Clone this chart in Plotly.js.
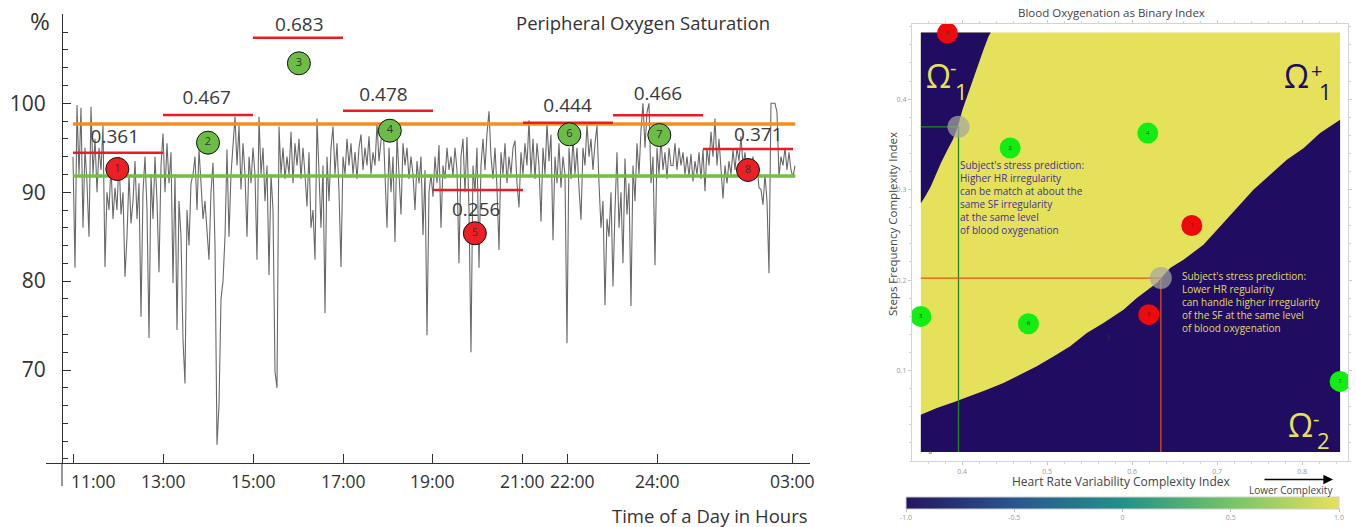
<!DOCTYPE html>
<html><head><meta charset="utf-8">
<script src="https://cdn.plot.ly/plotly-3.0.1.min.js"></script>
<style>html,body{margin:0;padding:0;background:#fff;}#chart{width:1356px;height:527px;}</style>
</head><body><div id="chart"></div>
<script>
const W = 1356, H = 527;
const FONT = 'Open Sans, Noto Sans, sans-serif';

// ---------- Left panel: Peripheral Oxygen Saturation ----------
const sampleStartHour = 11;
const sampleStepHours = 2 / 45;
const spo2 = [
 94,81.5,99.8,92,99.5,86,95,91,85,99.6,92,96,90,95,92.5,97.5,81.6,90,88,93,87,90.5,88,94,87.5,90,80.5,85,92,86.5,89,93.5,87,91,76,90,94,88,73.6,92,87,94,89,81,93,96.6,90,95.5,91,94.5,79.8,92,74.5,89,85,73.4,68.5,88,84,91,
 92,94,88,94.8,91,87,89,85,82.4,90,93.3,84,61.6,66,78,80,85,94.8,85,92,95,98.5,93,97.5,90.3,95.5,92,85,94,91,95,92,82.4,98.5,92,95,89,93,80.7,92,88,69.8,68,97.4,92,95,91.5,94,92,96.8,91,95.5,93,96,91.5,95,92,88.4,94.5,86,
 88,82.4,98.3,91,86,93,76.4,94,89,95,97.4,92,95.5,90,81.6,94,92,96,93,95.5,92,94.5,91.5,95,96.5,92.5,95,93,96.3,92,94.5,93,97.7,93.5,96,98,92,86,95,90,94,84.4,96.5,92,87.5,95.5,93,95,91.5,94,92,88,93.5,91,94,85.2,92.5,73.9,90,92,
 89.5,94,91,95.3,86,93,91.5,95,92.5,94,91.8,95,92.5,82,94,96,90,96.2,88,72,93,90,95,81.5,93,96,92.5,96.6,99.1,94,91.5,95,90.5,83.5,94.5,92,95.5,91,94,92,95,95.8,91,88.3,94.5,92,95.5,93,98.1,92,96,91.5,95.5,93,86.7,95,92,97.8,93.5,96.5,
 84.6,94,91,95.5,90.5,94,92,73,95,91.5,96,92,95,90.5,86.9,95,93,97.7,94,96,92.5,95.5,97.5,91,86,89,77.3,87,85,90,79.4,88,94.5,86,90,82,93.8,87.5,91,77.2,93,89,95.5,92,97,100,95,99,100,91,94,81.8,95,92,96,92.5,94.5,91.5,95,93,
 93,95.5,92.5,95,93,94.5,92,94,91.8,94.3,91.2,93.5,92,94.5,91.5,94.8,90.1,95,93,96.8,94,98.3,93,96,92,89.3,93,91,93.5,92,94.8,92.5,95,93.5,96.3,93,94.5,92,93.5,92.5,94,91.5,93,90.5,90.3,88.6,92,89,80.9,100,100,100,99,91.7,94,93,95,92.5,94.5,92.5,91.7,93
];
const hourTicks = [11, 13, 15, 17, 19, 21, 22, 24, 27];
const hourTickLabels = ['11:00', '13:00', '15:00', '17:00', '19:00', '21:00', '22:00', '24:00', '03:00'];
const spo2Ticks = [70, 80, 90, 100];
const refLineHours = [11, 27.05];
const upperRefLevel = 97.67;
const lowerRefLevel = 91.82;
const windowStart = [11, 13, 15, 17, 19, 21, 23, 25];
const windowEnd = [13, 15, 17, 19, 21, 23, 25, 27];
const windowLevel = [94.44, 98.68, 107.38, 99.17, 90.25, 97.82, 98.65, 94.86];
const windowIndexText = ['0.361', '0.467', '0.683', '0.478', '0.256', '0.444', '0.466', '0.371'];
const windowIndexHour = [11.93, 13.97, 16.03, 17.9, 19.96, 21.99, 24.0, 26.23];
const windowIndexLevel = [96.06, 100.45, 108.7, 100.74, 87.89, 99.55, 100.86, 96.25];
const sampleIds = ['1', '2', '3', '4', '5', '6', '7', '8'];
const sampleHour = [11.985, 14.0, 16.02, 18.04, 19.93, 22.03, 24.03, 26.0];
const sampleLevel = [92.61, 95.57, 104.5, 96.92, 85.38, 96.51, 96.43, 92.5];
const sampleClass = ['low', 'high', 'high', 'high', 'low', 'high', 'high', 'low'];

// ---------- Right panel: Blood Oxygenation as Binary Index ----------
const hrvIndex = [0.6702, 0.4565, 0.3514, 0.6184, 0.3827, 0.478, 0.8447, 0.6196];
const sfIndex = [0.2603, 0.3459, 0.1598, 0.3624, 0.4729, 0.1517, 0.0880, 0.1617];
const mapHrvRange = [0.3514, 0.8447];
const mapSfRange = [0.0100, 0.4736];
const upperBoundaryHrv = [0.4337, 0.4310, 0.4251, 0.4180, 0.4114, 0.4043, 0.4004, 0.3949, 0.3890, 0.3828, 0.3749, 0.3682, 0.3631, 0.3565, 0.3514];
const upperBoundarySf = [0.4736, 0.4692, 0.4545, 0.4361, 0.4176, 0.3992, 0.3882, 0.3694, 0.3550, 0.3440, 0.3292, 0.3145, 0.3035, 0.2924, 0.2850];
const lowerBoundaryHrv = [0.3514, 0.3702, 0.3898, 0.4094, 0.4290, 0.4486, 0.4682, 0.4878, 0.5074, 0.5271, 0.5467, 0.5663, 0.5898, 0.6055, 0.6290, 0.6447, 0.6604, 0.6761, 0.6839, 0.7035, 0.7231, 0.7427, 0.7624, 0.7820, 0.8016, 0.8212, 0.8447];
const lowerBoundarySf = [0.0512, 0.0585, 0.0648, 0.0714, 0.0788, 0.0862, 0.0954, 0.1046, 0.1156, 0.1267, 0.1414, 0.1525, 0.1672, 0.1801, 0.1967, 0.2132, 0.2224, 0.2335, 0.2390, 0.2593, 0.2795, 0.2998, 0.3164, 0.3329, 0.3458, 0.3624, 0.3771];
const predHrv = [0.3957, 0.6338];
const predSf = [0.3694, 0.2022];
const strayLabelHrv = [0.5722, 0.3624];
const strayLabelSf = [0.1366, 0.0099];
const strayLabelText = ['8', '8'];
const binaryRange = [-1, 1];
const binaryTicks = [-1, -0.5, 0, 0.5, 1];
const binaryTickLabels = ['-1.0', '-0.5', '0', '0.5', '1.0'];
const hrvTicks = [0.4, 0.5, 0.6, 0.7, 0.8];
const sfTicks = [0.1, 0.2, 0.3, 0.4];

// ---------- helpers ----------
const px = v => v / W;
const py = v => 1 - v / H;
const NAVY = '#200c60', YELLOW = '#e6e15b';
const times = spo2.map((_, i) => sampleStartHour + i * sampleStepHours);

const segX = [], segY = [];
windowStart.forEach((s, k) => { segX.push(s, windowEnd[k], null); segY.push(windowLevel[k], windowLevel[k], null); });

const leftColor = c => c === 'low' ? '#ed1f24' : '#6cbd45';
const rightColor = c => c === 'low' ? '#ee0a0a' : '#12ee12';

const traces = [
  { x: times, y: spo2, type: 'scatter', mode: 'lines', line: { color: '#686868', width: 1.1 }, xaxis: 'x', yaxis: 'y' },
  { x: refLineHours, y: refLineHours.map(() => upperRefLevel), mode: 'lines', line: { color: '#f68b1f', width: 3.5 }, xaxis: 'x', yaxis: 'y' },
  { x: refLineHours, y: refLineHours.map(() => lowerRefLevel), mode: 'lines', line: { color: '#72bf44', width: 3.5 }, xaxis: 'x', yaxis: 'y' },
  { x: segX, y: segY, mode: 'lines', line: { color: '#ed1c24', width: 2.5 }, connectgaps: false, xaxis: 'x', yaxis: 'y' },
  { x: windowIndexHour, y: windowIndexLevel, mode: 'text', text: windowIndexText, textfont: { family: FONT, size: 19, color: '#3a3a3a' }, xaxis: 'x', yaxis: 'y' },
  { x: sampleHour, y: sampleLevel, mode: 'markers+text', text: sampleIds, textposition: 'middle center',
    textfont: { family: FONT, size: 11, color: '#333' },
    marker: { size: 23, color: sampleClass.map(leftColor), line: { color: '#111', width: 1 } }, xaxis: 'x', yaxis: 'y' },

  // right panel
  { x: [mapHrvRange[0], mapHrvRange[1], mapHrvRange[1], mapHrvRange[0], mapHrvRange[0]],
    y: [mapSfRange[0], mapSfRange[0], mapSfRange[1], mapSfRange[1], mapSfRange[0]],
    mode: 'lines', fill: 'toself', fillcolor: YELLOW, line: { width: 0, color: YELLOW }, xaxis: 'x2', yaxis: 'y2' },
  { x: upperBoundaryHrv.concat([mapHrvRange[0], upperBoundaryHrv[0]]), y: upperBoundarySf.concat([mapSfRange[1], upperBoundarySf[0]]),
    mode: 'lines', fill: 'toself', fillcolor: NAVY, line: { width: 0, color: NAVY }, xaxis: 'x2', yaxis: 'y2' },
  { x: lowerBoundaryHrv.concat([mapHrvRange[1], mapHrvRange[0], lowerBoundaryHrv[0]]), y: lowerBoundarySf.concat([mapSfRange[0], mapSfRange[0], lowerBoundarySf[0]]),
    mode: 'lines', fill: 'toself', fillcolor: NAVY, line: { width: 0, color: NAVY }, xaxis: 'x2', yaxis: 'y2' },
  { x: [mapHrvRange[0], predHrv[0], predHrv[0]], y: [predSf[0], predSf[0], mapSfRange[0]], mode: 'lines', line: { color: '#1f8a1f', width: 1.3 }, xaxis: 'x2', yaxis: 'y2' },
  { x: [mapHrvRange[0], predHrv[1], predHrv[1]], y: [predSf[1], predSf[1], mapSfRange[0]], mode: 'lines', line: { color: '#e5501e', width: 1.2 }, xaxis: 'x2', yaxis: 'y2' },
  { x: predHrv, y: predSf, mode: 'markers', marker: { size: 22, color: 'rgba(165,165,160,0.72)' }, xaxis: 'x2', yaxis: 'y2' },
  { x: hrvIndex, y: sfIndex, mode: 'markers+text', text: sampleIds, textposition: 'middle center',
    textfont: { family: FONT, size: 6, color: '#333' },
    marker: { size: 21, color: sampleClass.map(rightColor) }, xaxis: 'x2', yaxis: 'y2' },
  { x: strayLabelHrv, y: strayLabelSf, mode: 'text', text: strayLabelText, textfont: { family: FONT, size: 6, color: '#333' }, xaxis: 'x2', yaxis: 'y2' },
  { x: [mapHrvRange[0], mapHrvRange[0]], y: [mapSfRange[0], mapSfRange[0]], mode: 'markers',
    marker: { size: 1, opacity: 0, color: binaryRange, cmin: binaryRange[0], cmax: binaryRange[1],
      colorscale: [[0, '#25155f'], [0.25, '#2a5590'], [0.5, '#219189'], [0.75, '#74c467'], [1, '#e8e15c']],
      showscale: true,
      colorbar: { orientation: 'h', x: px((906 + 1339) / 2), xanchor: 'center', y: py(497), yanchor: 'top',
        len: (1339 - 906) / W, lenmode: 'fraction', thickness: 12, xpad: 0, ypad: 0,
        outlinewidth: 1, outlinecolor: '#cfcfcf', ticks: 'outside', ticklen: 3, tickcolor: '#bbb',
        tickmode: 'array', tickvals: binaryTicks, ticktext: binaryTickLabels,
        tickfont: { family: FONT, size: 7, color: '#999' } } },
    xaxis: 'x2', yaxis: 'y2' }
];

const ax2 = {
  showline: true, mirror: 'allticks', linecolor: '#d4d4d4', linewidth: 1.2, ticks: 'outside', ticklen: 3, tickcolor: '#c8c8c8',
  showgrid: false, zeroline: false, tickfont: { family: FONT, size: 7, color: '#999' },
  minor: { tickmode: 'linear', dtick: 0.02, ticks: 'outside', ticklen: 2, tickcolor: '#d4d4d4' }
};

const sub = (t, x, y, size, color, anchor) => ({ text: t, x: px(x), y: py(y), xref: 'paper', yref: 'paper', showarrow: false,
  xanchor: anchor || 'center', yanchor: 'middle', font: { family: FONT, size: size, color: color } });

// hour tick labels (nudged right where they would collide, as in the original)
const tickNudge = { '11:00': 20.5, '22:00': 5 };
const hourLabelAnnots = hourTicks.map((h, k) => ({
  text: hourTickLabels[k], x: h, xref: 'x', y: py(481), yref: 'paper', showarrow: false,
  xanchor: 'center', yanchor: 'middle', xshift: tickNudge[hourTickLabels[k]] || 0,
  font: { family: FONT, size: 17.5, color: '#333' }
}));

const layout = {
  width: W, height: H, autosize: false, margin: { l: 0, r: 0, t: 0, b: 0, pad: 0 },
  paper_bgcolor: '#fff', plot_bgcolor: 'rgba(0,0,0,0)', showlegend: false, hovermode: false,
  xaxis: { domain: [px(46), px(810)], range: [10.4, 27.378], anchor: 'y', tickmode: 'array', tickvals: hourTicks, ticktext: hourTickLabels,
    showticklabels: false, ticks: 'inside', ticklen: 9, tickcolor: '#333', showline: true, linecolor: '#333', linewidth: 1, showgrid: false, zeroline: false,
    title: { text: '' } },
  yaxis: { domain: [py(462.5), py(14.4)], range: [59.6, 110], anchor: 'free', position: px(62), side: 'left',
    tickmode: 'array', tickvals: spo2Ticks, ticks: 'inside', ticklen: 8, tickcolor: '#333', ticklabelstandoff: 12,
    minor: { tickmode: 'linear', tick0: 60, dtick: 2, ticks: 'inside', ticklen: 5, tickcolor: '#333' },
    showline: true, linecolor: '#333', linewidth: 1, showgrid: false, zeroline: false,
    tickfont: { family: FONT, size: 21, color: '#333' }, title: { text: '' } },
  xaxis2: Object.assign({}, ax2, { domain: [px(912), px(1348)], range: [0.341, 0.854], anchor: 'y2', tickmode: 'array', tickvals: hrvTicks, title: { text: '' } }),
  yaxis2: Object.assign({}, ax2, { domain: [py(461), py(24)], range: [0, 0.483], anchor: 'x2', tickmode: 'array', tickvals: sfTicks, title: { text: '' } }),
  shapes: [
    { type: 'line', xref: 'paper', yref: 'paper', x0: px(62), x1: px(62), y0: py(462.5), y1: py(486), line: { color: '#333', width: 1 } }
  ],
  annotations: hourLabelAnnots.concat([
    sub('%', 40, 21, 24, '#333'),
    sub('Peripheral Oxygen Saturation', 643, 22, 18.5, '#333'),
    sub('Time of a Day in Hours', 810, 515, 18.5, '#333', 'right'),
    sub('Blood Oxygenation as Binary Index', 1111, 13, 11.5, '#444'),
    Object.assign(sub('Steps Frequency Complexity Index', 892, 224, 11.5, '#444'), { textangle: -90 }),
    sub('Heart Rate Variability Complexity Index', 1121, 481, 12, '#444'),
    sub('Lower Complexity', 1291, 490, 10, '#444'),
    { text: '', x: px(1333), y: py(479.5), xref: 'paper', yref: 'paper', showarrow: true, ax: -70, ay: 0,
      arrowhead: 2, arrowsize: 1.2, arrowwidth: 1.6, arrowcolor: '#000' },
    sub('Ω', 938, 75, 32, YELLOW), sub('-', 953, 67, 20, YELLOW), sub('1', 961, 91, 22, YELLOW),
    sub('Ω', 1296, 75, 32, NAVY), sub('+', 1316, 70, 20, NAVY), sub('1', 1325, 91, 22, NAVY),
    sub('Ω', 1300, 424, 32, YELLOW), sub('-', 1316, 418, 20, YELLOW), sub('2', 1323, 440, 22, YELLOW),
    { text: "Subject's stress prediction:<br>Higher HR irregularity<br>can be match at about the<br>same SF irregularity<br>at the same level<br>of blood oxygenation",
      x: px(958), y: py(156), xref: 'paper', yref: 'paper', xanchor: 'left', yanchor: 'top', align: 'left', showarrow: false,
      font: { family: FONT, size: 10, color: '#3f3296' } },
    { text: "Subject's stress prediction:<br>Lower HR regularity<br>can handle higher irregularity<br>of the SF at the same level<br>of blood oxygenation",
      x: px(1180), y: py(267), xref: 'paper', yref: 'paper', xanchor: 'left', yanchor: 'top', align: 'left', showarrow: false,
      font: { family: FONT, size: 10, color: '#e2da66' } }
  ])
};

Plotly.newPlot('chart', traces, layout, { displayModeBar: false, staticPlot: true });
</script>
</body></html>
